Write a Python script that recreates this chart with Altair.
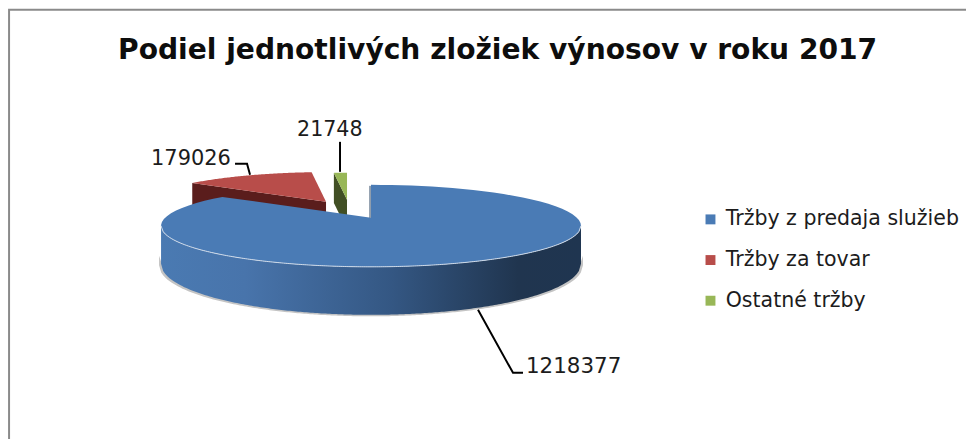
import numpy as np
import pandas as pd
import altair as alt

names = ["Tržby z predaja služieb", "Tržby za tovar", "Ostatné tržby"]
values = [1218377, 179026, 21748]
colors = ["#4a7bb5", "#b84d4a", "#98b757"]
wall_colors = ["#1f3552", "#5a1d1c", "#414f24"]
title_text = "Podiel jednotlivých zložiek výnosov v roku 2017"

# page-pixel geometry of the tilted pie
RX, RY, DY = 210, 41, 8
APEX = [(371, 218), (326, 202), (347, 200)]
SCALE = [1.0, 0.9, 0.82]
WALL_CY, WALL_RY = 264, 51

fx = alt.X("x:Q", scale=alt.Scale(domain=[0, 974], range=[-8, 974], nice=False, zero=False), axis=None)
fy = alt.Y("y:Q", scale=alt.Scale(domain=[0, 439], range=[-10, 432.6], nice=False, zero=False), axis=None)

total = sum(values)
edges = np.cumsum([0] + values) / total * 2 * np.pi


def warp(t):
    return t - np.radians(6) * np.sin(2 * t)


rows = []
outer = []
for k in range(3):
    ax, ay = APEX[k]
    s = SCALE[k]
    ts = warp(np.linspace(edges[k], edges[k + 1], 90))
    xs = ax + s * RX * np.sin(ts)
    ys = ay + s * DY - s * RY * np.cos(ts)
    outer.append((xs, ys))
    px = [ax] + list(xs)
    py = [ay] + list(ys)
    for i, (a, b) in enumerate(zip(px, py)):
        rows.append({"name": names[k], "x": a, "y": b, "i": i})
slices = pd.DataFrame(rows)


def poly(pts, fill, **kw):
    df = pd.DataFrame({"x": [p[0] for p in pts], "y": [p[1] for p in pts], "i": range(len(pts))})
    return alt.Chart(df).mark_line(fill=fill, stroke=None, **kw).encode(x=fx, y=fy, order="i:Q")


def polyline(pts, color, w):
    df = pd.DataFrame({"x": [p[0] for p in pts], "y": [p[1] for p in pts], "i": range(len(pts))})
    return alt.Chart(df).mark_line(color=color, strokeWidth=w).encode(x=fx, y=fy, order="i:Q")


def text(x, y, s, size, **kw):
    df = pd.DataFrame({"x": [x], "y": [y], "t": [s]})
    return alt.Chart(df).mark_text(fontSize=size, align="left", baseline="alphabetic", **kw).encode(x=fx, y=fy, text="t:N")


# cut faces behind the blue slice
depth = 30
red_left = (outer[1][0][0], outer[1][1][0])
green_left = (outer[2][0][0], outer[2][1][0])
red_wall = poly([red_left, APEX[1], (APEX[1][0], APEX[1][1] + depth), (red_left[0], red_left[1] + depth)], wall_colors[1])
green_wall = poly([green_left, APEX[2], (APEX[2][0], APEX[2][1] + depth), (green_left[0], green_left[1] + depth)], wall_colors[2])

# front rim of the blue slice
u = np.linspace(-1, 1, 200)
cx = APEX[0][0]
rim = pd.DataFrame({
    "x": cx + RX * u,
    "y": APEX[0][1] + DY + RY * np.sqrt(1 - u**2),
    "y2": WALL_CY + WALL_RY * np.sqrt(1 - u**2),
})
shadow_df = pd.DataFrame({
    "x": cx + (RX + 2) * u,
    "y": APEX[0][1] + DY + 30 + RY * np.sqrt(1 - u**2),
    "y2": WALL_CY + 1.5 + WALL_RY * np.sqrt(1 - u**2),
})
shadow = alt.Chart(shadow_df).mark_area(color="#c4c4c4").encode(x=fx, y=fy, y2="y2:Q")
wall = alt.Chart(rim).mark_area(
    color=alt.Gradient(
        gradient="linear", x1=0, x2=1, y1=0, y2=0,
        stops=[
            alt.GradientStop(offset=0, color="#4a7ab2"),
            alt.GradientStop(offset=0.2, color="#4874ab"),
            alt.GradientStop(offset=0.55, color="#345783"),
            alt.GradientStop(offset=0.85, color="#20354f"),
            alt.GradientStop(offset=1, color="#1f3550"),
        ],
    )
).encode(x=fx, y=fy, y2="y2:Q")
highlight = alt.Chart(rim).mark_line(color="#cfdbe9", strokeWidth=1).encode(x=fx, y=fy)

top = alt.Chart(slices).mark_line(stroke=None).encode(
    x=fx,
    y=fy,
    order="i:Q",
    fill=alt.Fill(
        "name:N",
        scale=alt.Scale(domain=names, range=colors),
        legend=alt.Legend(
            title=None,
            orient="none",
            legendX=698,
            legendY=201,
            symbolType="square",
            symbolSize=100,
            symbolStrokeWidth=0,
            labelFontSize=20.7,
            labelFont="DejaVu Sans",
            labelColor="#1c1c1c",
            labelLimit=300,
            labelOffset=5,
            rowPadding=19,
        ),
    ),
)

chart = alt.layer(
    polyline([(9, 445), (9, 10), (974, 10)], "#8a8a8a", 2),
    red_wall,
    green_wall,
    top.transform_filter(alt.datum.name != names[0]),
    shadow,
    wall,
    top.transform_filter(alt.datum.name == names[0]),
    highlight,
    polyline([(370, 186), (370, 218)], "#24405f", 1),
    polyline([(340, 142), (340, 172)], "#000000", 2),
    polyline([(235, 164), (247, 164), (250, 175)], "#000000", 2),
    polyline([(478, 310), (513, 373), (523, 373)], "#000000", 2),
    text(118, 59, title_text, 28.35, font="DejaVu Sans", fontWeight="bold", color="#0d0d0d"),
    text(297, 136, str(values[2]), 20.8, font="DejaVu Sans", color="#1c1c1c"),
    text(151, 165, str(values[1]), 21.1, font="DejaVu Sans", color="#1c1c1c"),
    text(526, 373, str(values[0]), 21.6, font="DejaVu Sans", color="#1c1c1c"),
).properties(
    width=966, height=431, padding=0, autosize=alt.AutoSizeParams(type="none"), background="#ffffff"
).configure_view(stroke=None)

chart.save("out.html", embed_options={"renderer": "svg", "actions": False})
